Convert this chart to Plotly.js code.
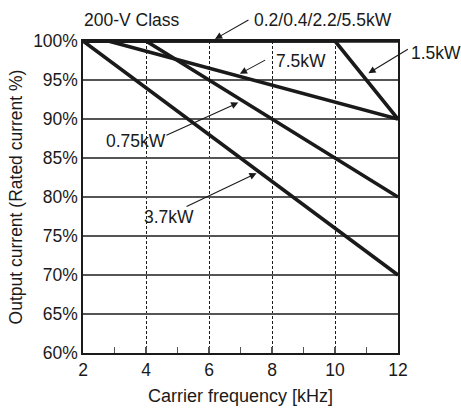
<!DOCTYPE html>
<html>
<head>
<meta charset="utf-8">
<script src="https://cdn.plot.ly/plotly-3.0.1.min.js"></script>
<style>html,body{margin:0;padding:0;background:#fff;}#chart{width:461px;height:410px;}</style>
</head>
<body>
<div id="chart"></div>
<script>
// Carrier frequency [kHz] vs output current [%] per capacity
const x_small = [2, 12];          // 0.2/0.4/2.2/5.5kW
const y_small = [100, 100];
const x_1p5 = [2, 10, 12];        // 1.5kW
const y_1p5 = [100, 100, 90];
const x_7p5 = [2, 2.8, 12];       // 7.5kW
const y_7p5 = [100, 100, 90];
const x_0p75 = [2, 4, 12];        // 0.75kW
const y_0p75 = [100, 100, 80];
const x_3p7 = [2, 12];            // 3.7kW
const y_3p7 = [100, 70];

const seriesNames = ['0.2/0.4/2.2/5.5kW', '1.5kW', '7.5kW', '0.75kW', '3.7kW'];
const xTicks = [2, 4, 6, 8, 10, 12];
const yTicks = [60, 65, 70, 75, 80, 85, 90, 95, 100];

const FONT = 'Liberation Sans, Arial, Helvetica, sans-serif';
const INK = '#1a1a1a';

const X_RANGE = [2, 12], Y_RANGE = [60, 100];
const M = {l: 83, r: 63, t: 41, b: 57};
const W = 461, H = 410;
const PW = W - M.l - M.r, PH = H - M.t - M.b;

const seriesX = [x_small, x_1p5, x_7p5, x_0p75, x_3p7];
const seriesY = [y_small, y_1p5, y_7p5, y_0p75, y_3p7];

const traces = seriesX.map((xs, i) => ({
  x: xs, y: seriesY[i], name: seriesNames[i],
  type: 'scatter', mode: 'lines',
  line: {color: INK, width: 3.6},
  cliponaxis: false, hoverinfo: 'skip'
}));

// label text, text anchor (left, middle), arrow tail, arrow head  (data units)
const labels = [
  {t: '0.2/0.4/2.2/5.5kW', tx: 7.40, ty: 102.75, ax: 7.30, ay: 102.8, hx: 6.19, hy: 100.25},
  {t: '7.5kW', tx: 8.10, ty: 97.45, ax: 7.83, ay: 97.65, hx: 6.98, hy: 95.8},
  {t: '1.5kW', tx: 12.38, ty: 98.45, ax: 12.36, ay: 99.06, hx: 11.06, hy: 95.86},
  {t: '0.75kW', tx: 2.70, ty: 87.12, ax: 4.60, ay: 87.82, hx: 6.93, hy: 92.1},
  {t: '3.7kW', tx: 3.90, ty: 77.44, ax: 5.24, ay: 78.68, hx: 7.51, hy: 83.05}
];

const px = x => (x - X_RANGE[0]) / (X_RANGE[1] - X_RANGE[0]);
const py = y => (y - Y_RANGE[0]) / (Y_RANGE[1] - Y_RANGE[0]);

const annotations = [];
annotations.push({
  text: '200-V Class', x: px(2), y: py(102.7), xref: 'paper', yref: 'paper',
  xanchor: 'left', yanchor: 'middle', showarrow: false, borderpad: 0,
  font: {family: FONT, size: 17.5, color: INK}
});
labels.forEach(l => {
  annotations.push({
    text: l.t, x: px(l.tx), y: py(l.ty), xref: 'paper', yref: 'paper',
    xanchor: 'left', yanchor: 'middle', showarrow: false, borderpad: 0,
    font: {family: FONT, size: 17.5, color: INK}
  });
  annotations.push({
    text: '', x: px(l.hx), y: py(l.hy), xref: 'paper', yref: 'paper',
    ax: (px(l.ax) - px(l.hx)) * PW, ay: -(py(l.ay) - py(l.hy)) * PH,
    axref: 'pixel', ayref: 'pixel',
    showarrow: true, arrowhead: 2, arrowsize: 1.3, arrowwidth: 1.1,
    arrowcolor: INK, standoff: 0, startstandoff: 0
  });
});

const layout = {
  width: W, height: H,
  margin: {l: M.l, r: M.r, t: M.t, b: M.b, pad: 0},
  paper_bgcolor: '#fff', plot_bgcolor: '#fff',
  showlegend: false,
  font: {family: FONT, size: 17.5, color: INK},
  xaxis: {
    range: X_RANGE, tickvals: xTicks, ticktext: xTicks.map(String),
    ticks: 'inside', ticklen: 6, tickcolor: '#555', tickwidth: 1.2,
    ticklabelstandoff: 0,
    minor: {dtick: 1, tick0: 2, ticks: 'inside', ticklen: 6, tickcolor: '#555', tickwidth: 1.2, showgrid: false},
    showgrid: true, gridcolor: INK, gridwidth: 1, griddash: '3px,2px',
    showline: true, linecolor: INK, linewidth: 1.6, mirror: true,
    zeroline: false, automargin: false,
    tickfont: {family: FONT, size: 17.5, color: INK},
    title: {text: 'Carrier frequency [kHz]', font: {family: FONT, size: 18, color: INK}, standoff: 11}
  },
  yaxis: {
    range: Y_RANGE, tickvals: yTicks, ticktext: yTicks.map(v => v + '%'),
    ticks: '', showgrid: true, gridcolor: '#555', gridwidth: 1.3,
    showline: true, linecolor: INK, linewidth: 1.6, mirror: true,
    zeroline: false, automargin: false,
    tickfont: {family: FONT, size: 17.5, color: INK},
    title: {text: 'Output current (Rated current %)', font: {family: FONT, size: 17.5, color: INK}, standoff: 6}
  },
  annotations: annotations
};

Plotly.newPlot('chart', traces, layout, {displayModeBar: false, staticPlot: true});
</script>
</body>
</html>
